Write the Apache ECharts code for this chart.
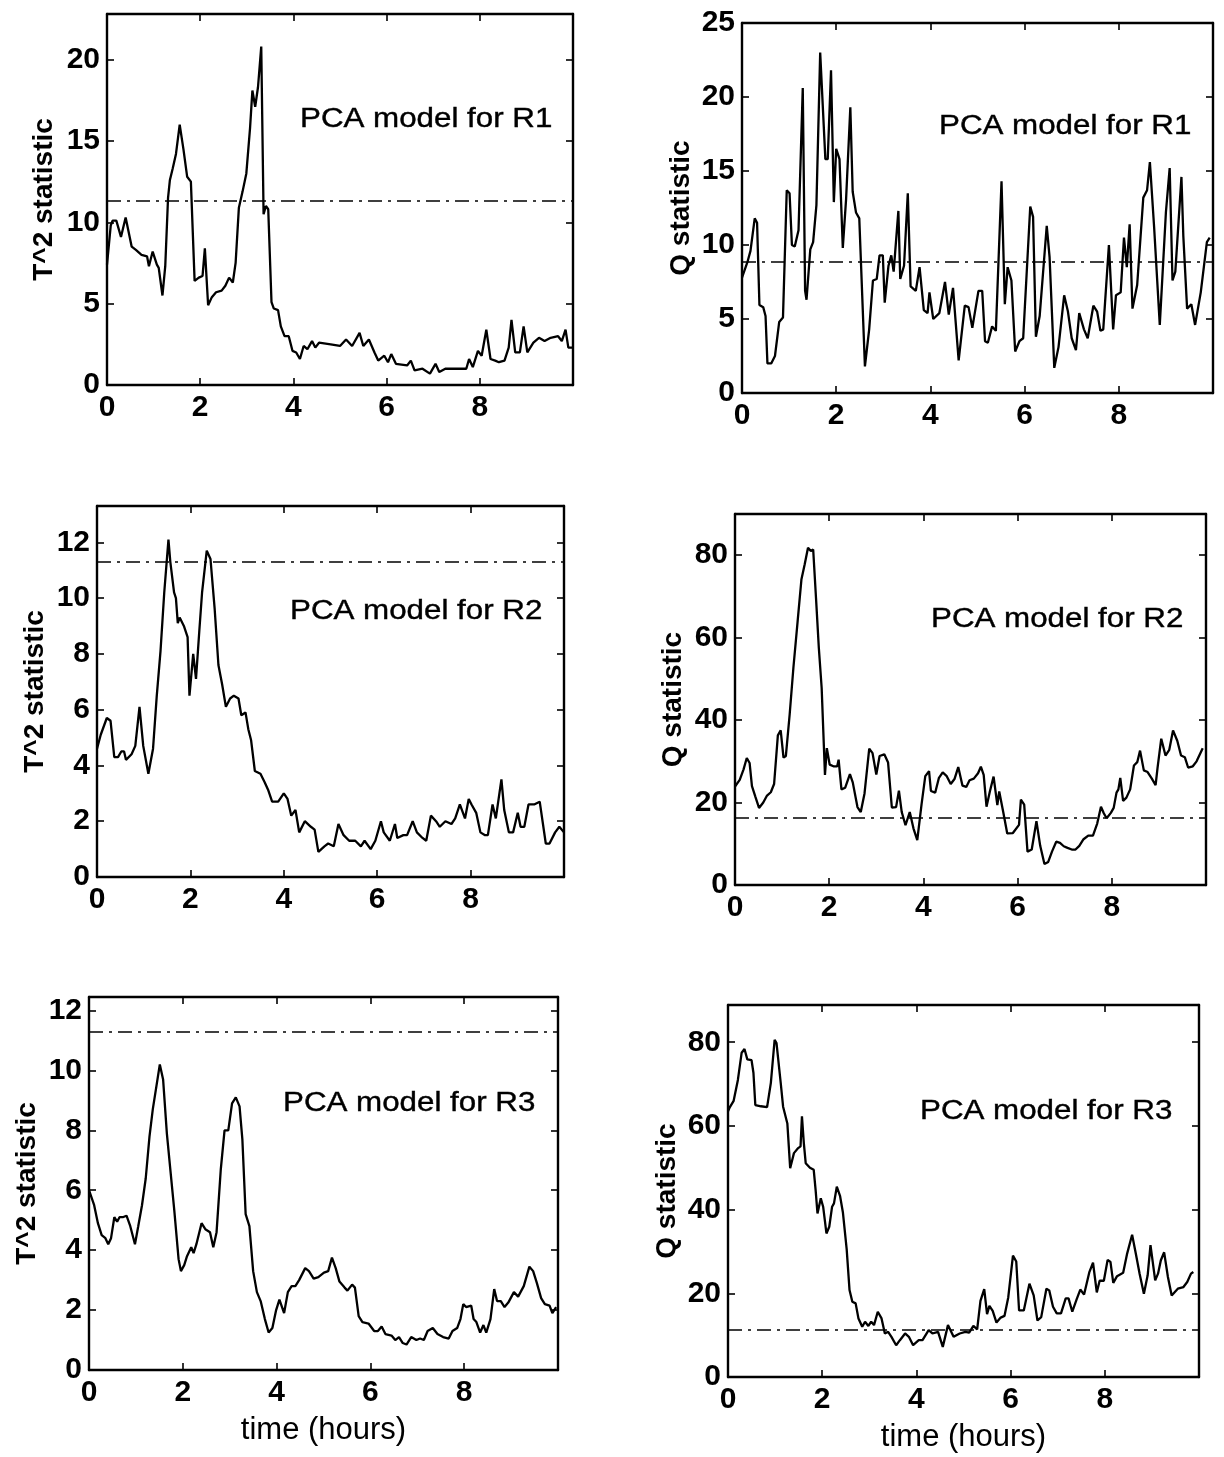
<!DOCTYPE html>
<html>
<head>
<meta charset="utf-8">
<script src="https://cdn.jsdelivr.net/npm/echarts@6/dist/echarts.min.js"></script>
<style>
html,body{margin:0;padding:0;background:#fff;}
#c{width:1224px;height:1457px;}
</style>
</head>
<body>
<div id="c"></div>
<script>
// ---------- data: [time (hours), statistic] ----------
const T2_R1 = [[0,7.4],[0.08,9.8],[0.12,10.1],[0.2,10.1],[0.3,9.1],[0.4,10.3],[0.53,8.5],[0.62,8.3],[0.74,8.0],[0.86,7.9],[0.9,7.3],[0.98,8.2],[1.07,7.4],[1.11,7.2],[1.19,5.5],[1.25,7.3],[1.31,11.5],[1.35,12.6],[1.41,13.3],[1.48,14.2],[1.56,16.0],[1.64,14.5],[1.72,12.8],[1.8,12.5],[1.88,6.4],[1.97,6.6],[2.05,6.7],[2.1,8.4],[2.17,4.9],[2.25,5.4],[2.34,5.7],[2.46,5.8],[2.54,6.1],[2.62,6.6],[2.7,6.3],[2.76,7.5],[2.83,10.9],[2.91,11.9],[2.99,13.0],[3.07,15.8],[3.12,18.1],[3.18,17.1],[3.24,18.3],[3.31,20.8],[3.36,10.5],[3.41,11.0],[3.46,10.8],[3.53,5.1],[3.58,4.7],[3.67,4.6],[3.73,3.6],[3.81,3.0],[3.9,3.0],[3.98,2.1],[4.06,2.0],[4.14,1.6],[4.22,2.4],[4.3,2.2],[4.4,2.7],[4.47,2.3],[4.55,2.6],[4.8,2.5],[5.0,2.4],[5.13,2.8],[5.26,2.4],[5.42,3.2],[5.5,2.4],[5.62,2.8],[5.74,2.0],[5.82,1.5],[5.95,1.8],[6.03,1.4],[6.1,1.9],[6.2,1.3],[6.44,1.2],[6.52,1.5],[6.6,0.9],[6.77,1.0],[6.93,0.7],[7.05,1.3],[7.13,0.8],[7.26,1.0],[7.59,1.0],[7.71,1.0],[7.77,1.6],[7.85,1.1],[7.96,2.1],[8.04,1.8],[8.14,3.4],[8.23,1.6],[8.33,1.5],[8.41,1.4],[8.53,1.5],[8.62,2.3],[8.68,4.0],[8.76,2.0],[8.86,2.0],[8.94,3.6],[9.02,2.0],[9.15,2.6],[9.27,2.9],[9.39,2.7],[9.52,2.9],[9.68,3.0],[9.76,2.7],[9.84,3.4],[9.9,2.3],[10.0,2.3]];

const Q_R1 = [[0,7.8],[0.12,8.9],[0.18,9.6],[0.27,11.8],[0.32,11.5],[0.37,5.95],[0.45,5.8],[0.5,5.2],[0.54,2.0],[0.62,2.0],[0.7,2.5],[0.79,4.8],[0.87,5.1],[0.95,13.7],[1.01,13.5],[1.06,10.0],[1.12,9.9],[1.2,11.0],[1.29,20.6],[1.34,6.9],[1.37,6.3],[1.45,9.7],[1.51,10.2],[1.58,12.7],[1.66,23.0],[1.77,15.8],[1.82,15.8],[1.89,21.8],[1.95,12.9],[2.0,16.5],[2.07,15.8],[2.14,9.8],[2.21,13.1],[2.3,19.3],[2.35,13.6],[2.42,12.2],[2.49,11.8],[2.61,1.8],[2.7,4.3],[2.78,7.6],[2.86,7.7],[2.92,9.3],[2.99,9.3],[3.03,6.1],[3.11,8.6],[3.17,9.3],[3.22,8.2],[3.32,12.3],[3.36,7.7],[3.44,8.6],[3.52,13.5],[3.58,7.2],[3.69,6.9],[3.77,8.5],[3.86,5.6],[3.94,5.4],[3.98,6.8],[4.06,5.0],[4.19,5.4],[4.31,7.5],[4.39,5.3],[4.48,7.1],[4.6,2.2],[4.73,5.9],[4.81,5.8],[4.89,4.4],[5.02,6.9],[5.1,6.9],[5.16,3.5],[5.22,3.4],[5.31,4.5],[5.39,4.2],[5.51,14.3],[5.58,6.0],[5.64,8.5],[5.72,7.6],[5.8,2.8],[5.89,3.5],[5.97,3.7],[6.12,12.6],[6.18,11.9],[6.24,3.8],[6.32,5.2],[6.47,11.3],[6.53,9.2],[6.63,1.7],[6.72,3.1],[6.84,6.6],[6.92,5.5],[7.0,3.7],[7.09,2.9],[7.16,5.4],[7.26,4.3],[7.34,3.7],[7.46,5.9],[7.54,5.5],[7.61,4.2],[7.67,4.3],[7.79,10.0],[7.88,4.3],[7.94,6.6],[8.04,6.8],[8.11,10.5],[8.17,8.5],[8.23,11.4],[8.29,5.7],[8.39,7.3],[8.52,13.2],[8.6,13.7],[8.66,15.6],[8.75,11.2],[8.87,4.6],[9.0,12.2],[9.08,15.2],[9.14,7.6],[9.2,8.2],[9.33,14.6],[9.37,10.6],[9.45,5.7],[9.54,6.0],[9.62,4.6],[9.74,6.8],[9.87,10.2],[9.93,10.5]];

const T2_R2 = [[0,4.6],[0.08,5.1],[0.21,5.7],[0.29,5.6],[0.37,4.3],[0.45,4.3],[0.52,4.5],[0.58,4.5],[0.62,4.2],[0.74,4.4],[0.82,4.7],[0.91,6.1],[0.99,4.7],[1.1,3.7],[1.2,4.6],[1.28,6.5],[1.36,8.1],[1.44,10.2],[1.53,12.1],[1.57,11.3],[1.65,10.2],[1.69,10.0],[1.73,9.1],[1.77,9.3],[1.86,9.0],[1.94,8.6],[1.98,6.5],[2.06,8.0],[2.12,7.1],[2.19,8.8],[2.25,10.2],[2.35,11.7],[2.43,11.4],[2.52,9.6],[2.6,7.6],[2.68,6.9],[2.76,6.1],[2.85,6.4],[2.93,6.5],[3.03,6.4],[3.09,5.8],[3.18,5.9],[3.24,5.3],[3.3,4.9],[3.38,3.8],[3.5,3.7],[3.59,3.4],[3.67,3.1],[3.75,2.7],[3.88,2.7],[4.0,3.0],[4.08,2.8],[4.16,2.2],[4.25,2.4],[4.33,1.6],[4.45,2.0],[4.58,1.8],[4.66,1.7],[4.74,0.9],[4.87,1.1],[4.95,1.2],[5.07,1.1],[5.17,1.9],[5.28,1.5],[5.4,1.3],[5.53,1.3],[5.65,1.1],[5.73,1.3],[5.86,1.0],[5.96,1.3],[6.08,2.0],[6.14,1.6],[6.27,1.3],[6.38,1.9],[6.43,1.4],[6.56,1.5],[6.64,1.5],[6.76,2.0],[6.85,1.6],[6.97,1.4],[7.05,1.3],[7.15,2.2],[7.26,2.0],[7.34,1.8],[7.46,2.0],[7.59,1.9],[7.67,2.1],[7.77,2.6],[7.88,2.1],[7.96,2.8],[8.02,2.6],[8.12,2.3],[8.21,1.6],[8.31,1.5],[8.37,1.5],[8.47,2.6],[8.54,2.1],[8.66,3.5],[8.72,2.4],[8.82,1.6],[8.91,1.6],[9.01,2.3],[9.07,1.8],[9.15,1.8],[9.24,2.6],[9.36,2.6],[9.48,2.7],[9.61,1.2],[9.69,1.2],[9.81,1.6],[9.9,1.8],[10.0,1.6]];

const Q_R2 = [[0,23.9],[0.1,25.5],[0.18,28.0],[0.25,30.8],[0.31,29.6],[0.36,24.0],[0.43,21.5],[0.51,18.7],[0.6,20.0],[0.68,21.7],[0.76,22.5],[0.83,24.5],[0.91,36.3],[0.97,37.5],[1.03,30.9],[1.08,31.3],[1.16,41.3],[1.24,52.7],[1.33,64.0],[1.41,74.1],[1.48,77.8],[1.55,81.8],[1.61,81.0],[1.66,81.4],[1.72,69.6],[1.78,57.5],[1.84,47.8],[1.91,26.7],[1.95,33.2],[2.01,29.2],[2.09,28.8],[2.17,28.8],[2.2,30.4],[2.26,23.2],[2.34,23.6],[2.44,26.9],[2.5,24.9],[2.6,18.9],[2.67,17.7],[2.75,22.2],[2.85,33.1],[2.92,32.0],[3.0,26.8],[3.07,31.3],[3.17,31.7],[3.25,29.7],[3.33,18.8],[3.42,18.9],[3.48,22.9],[3.54,17.7],[3.62,14.5],[3.71,17.7],[3.79,13.7],[3.87,10.9],[3.96,19.5],[4.04,26.4],[4.12,27.6],[4.16,22.8],[4.25,22.4],[4.33,26.0],[4.41,27.3],[4.49,26.5],[4.58,24.5],[4.66,25.7],[4.74,28.6],[4.83,24.1],[4.91,23.8],[4.98,25.4],[5.07,25.8],[5.16,27.1],[5.22,28.7],[5.28,26.7],[5.34,19.0],[5.41,22.6],[5.49,26.3],[5.57,19.4],[5.61,22.7],[5.7,17.4],[5.78,12.5],[5.9,12.6],[6.03,14.6],[6.07,20.7],[6.14,19.5],[6.21,8.1],[6.3,8.6],[6.4,15.5],[6.48,9.5],[6.57,5.1],[6.65,5.6],[6.73,8.1],[6.82,10.5],[6.9,10.2],[6.98,9.4],[7.06,9.0],[7.15,8.6],[7.23,8.6],[7.31,9.5],[7.4,11.1],[7.5,12.0],[7.6,12.0],[7.69,14.9],[7.77,19.0],[7.83,17.4],[7.89,16.2],[7.98,17.5],[8.04,18.7],[8.1,22.4],[8.14,23.2],[8.18,26.0],[8.24,20.4],[8.31,21.2],[8.39,23.2],[8.47,29.0],[8.54,29.8],[8.6,32.6],[8.68,27.8],[8.76,27.4],[8.85,25.8],[8.93,24.2],[8.97,28.3],[9.05,35.5],[9.14,31.4],[9.22,32.8],[9.3,37.5],[9.39,35.0],[9.47,31.4],[9.55,31.0],[9.62,28.5],[9.72,28.8],[9.8,30.0],[9.93,33.2]];

const T2_R3 = [[0,6.0],[0.11,5.5],[0.19,4.9],[0.27,4.5],[0.35,4.4],[0.41,4.2],[0.47,4.4],[0.54,5.1],[0.6,4.95],[0.65,5.1],[0.72,5.1],[0.8,5.15],[0.88,4.8],[0.98,4.2],[1.05,4.8],[1.13,5.5],[1.21,6.4],[1.29,7.8],[1.36,8.7],[1.44,9.5],[1.51,10.2],[1.58,9.7],[1.66,7.9],[1.74,6.6],[1.82,5.3],[1.91,3.7],[1.96,3.3],[2.03,3.5],[2.09,3.8],[2.18,4.1],[2.23,3.9],[2.29,4.2],[2.4,4.9],[2.48,4.7],[2.58,4.6],[2.65,4.1],[2.72,4.6],[2.81,6.7],[2.89,8.0],[2.97,8.0],[3.05,8.9],[3.13,9.1],[3.21,8.8],[3.27,7.7],[3.34,5.2],[3.42,4.8],[3.5,3.3],[3.58,2.6],[3.66,2.3],[3.75,1.7],[3.83,1.25],[3.91,1.4],[3.99,2.0],[4.06,2.35],[4.16,1.9],[4.24,2.6],[4.32,2.8],[4.4,2.8],[4.48,3.0],[4.61,3.4],[4.69,3.3],[4.79,3.05],[4.89,3.1],[5.01,3.25],[5.1,3.3],[5.18,3.75],[5.26,3.4],[5.34,2.95],[5.45,2.75],[5.51,2.65],[5.61,2.85],[5.67,2.75],[5.75,1.8],[5.83,1.6],[5.96,1.55],[6.08,1.3],[6.16,1.3],[6.24,1.45],[6.32,1.2],[6.45,1.15],[6.53,1.0],[6.61,1.1],[6.69,0.9],[6.77,0.85],[6.87,1.1],[6.98,1.0],[7.06,1.05],[7.14,1.0],[7.22,1.3],[7.33,1.4],[7.43,1.2],[7.55,1.1],[7.67,1.05],[7.75,1.3],[7.85,1.4],[7.92,1.7],[7.98,2.2],[8.04,2.1],[8.15,2.15],[8.2,1.7],[8.26,1.6],[8.34,1.25],[8.41,1.5],[8.47,1.25],[8.56,1.7],[8.64,2.7],[8.7,2.3],[8.78,2.3],[8.86,2.1],[8.94,2.25],[9.06,2.6],[9.15,2.45],[9.27,2.8],[9.39,3.45],[9.47,3.3],[9.55,2.9],[9.64,2.4],[9.72,2.2],[9.82,2.15],[9.88,1.9],[9.96,2.1]];

const Q_R3 = [[0,63.5],[0.04,64.5],[0.12,66],[0.21,71],[0.29,77.5],[0.35,78.4],[0.41,75.9],[0.5,75.7],[0.54,72.7],[0.58,65],[0.7,64.7],[0.83,64.5],[0.91,70.3],[0.99,80.6],[1.03,79.8],[1.12,70.2],[1.17,64.6],[1.26,60.6],[1.32,49.9],[1.4,53.5],[1.49,54.7],[1.54,55.1],[1.57,62.3],[1.61,55.9],[1.65,51.1],[1.74,50],[1.82,49.5],[1.86,44.7],[1.9,39.1],[1.97,42.7],[2.02,40.7],[2.09,34.3],[2.15,35.9],[2.21,40.7],[2.25,41.5],[2.31,45.5],[2.38,43.2],[2.44,39.3],[2.52,30.5],[2.58,20.8],[2.64,18.0],[2.71,17.6],[2.77,14],[2.85,12],[2.91,13.2],[2.98,12.2],[3.04,13.2],[3.1,12.4],[3.18,15.6],[3.26,14],[3.33,10.4],[3.4,10.8],[3.47,9.6],[3.57,7.6],[3.65,8.8],[3.76,10.4],[3.84,9.6],[3.93,7.6],[4.05,8.8],[4.13,8.8],[4.26,11.2],[4.34,10.4],[4.46,10.8],[4.56,7.2],[4.67,12.4],[4.79,9.6],[4.92,10.4],[5.04,10.8],[5.12,10.6],[5.21,12.2],[5.29,11.4],[5.36,18.2],[5.44,21.0],[5.5,15.0],[5.55,17.0],[5.62,15.8],[5.7,13.0],[5.79,14.2],[5.87,14.6],[5.95,19.0],[6.05,29.0],[6.12,27.6],[6.18,15.9],[6.28,15.9],[6.4,22.3],[6.49,19.5],[6.57,13.5],[6.65,14.3],[6.76,21.1],[6.82,20.7],[6.9,16.8],[6.98,15.2],[7.07,15.2],[7.17,18.8],[7.23,18.8],[7.31,15.6],[7.4,18.5],[7.48,20.9],[7.56,19.7],[7.67,25.0],[7.75,27.3],[7.83,20.2],[7.89,23.0],[7.98,23.0],[8.06,28.0],[8.12,27.5],[8.18,22.5],[8.26,24.1],[8.39,24.9],[8.47,29.3],[8.58,34.0],[8.66,29.4],[8.74,24.6],[8.83,19.9],[8.91,24.3],[8.97,31.5],[9.01,31.1],[9.07,23.1],[9.13,24.7],[9.19,27.9],[9.26,29.8],[9.34,23.9],[9.42,19.5],[9.55,21.1],[9.67,21.5],[9.75,22.7],[9.83,24.7],[9.88,25.1]];

// ---------- axis / panel settings ----------
const panelSeries = [T2_R1, Q_R1, T2_R2, Q_R2, T2_R3, Q_R3];
const thresholds = [11.3, 8.9, 11.3, 16.2, 11.3, 11.2];
const yMax = [22.8, 25, 13.3, 90, 12.45, 88.9];
const yStep = [5, 5, 2, 20, 2, 20];
const yNames = ['T^2 statistic', 'Q statistic', 'T^2 statistic', 'Q statistic', 'T^2 statistic', 'Q statistic'];
const notes = ['PCA model for R1', 'PCA model for R1', 'PCA model for R2', 'PCA model for R2', 'PCA model for R3', 'PCA model for R3'];
const xMax = 10, xStep = 2;
const xName = 'time (hours)';

// ---------- layout ----------
const boxes = [
  {left:107, top:14,   width:466, height:371},
  {left:742, top:23,   width:471, height:370},
  {left:97,  top:506,  width:467, height:371},
  {left:735, top:514,  width:471, height:371},
  {left:89,  top:997,  width:469, height:373},
  {left:728, top:1005, width:471, height:372}
];
const nameGaps = [49, 47, 48, 48, 48, 47];
const notePos = [[300,120],[939,127],[290,612],[931,620],[283,1104],[920,1112]];

const FONT = "'Liberation Sans', Arial, Helvetica, sans-serif";
const tickLabelStyle = {fontFamily: FONT, fontSize: 30, fontWeight: 'bold', color: '#000'};
const edge = {show: true, onZero: false, lineStyle: {color: '#000', width: 2.4}};
const tick = {show: true, inside: true, length: 7, lineStyle: {color: '#000', width: 1.6}};

const grid = [], xAxis = [], yAxis = [], series = [], graphic = [];
boxes.forEach((b, k) => {
  grid.push({left: b.left, top: b.top, width: b.width, height: b.height, show: false, containLabel: false});
  const isBottom = k >= 4;
  // bottom x axis
  xAxis.push({
    type: 'value', gridIndex: k, min: 0, max: xMax, interval: xStep, position: 'bottom',
    axisLine: edge, splitLine: {show: false}, axisTick: tick,
    axisLabel: {show: true, margin: 8, ...tickLabelStyle,
      formatter: v => (v >= xMax - 1e-9 ? '' : String(v))},
    name: isBottom ? xName : '', nameLocation: 'middle', nameGap: 45,
    nameTextStyle: {fontFamily: FONT, fontSize: 31, color: '#000'}
  });
  // top x axis (box edge + ticks)
  xAxis.push({
    type: 'value', gridIndex: k, min: 0, max: xMax, interval: xStep, position: 'top',
    axisLine: edge, splitLine: {show: false}, axisLabel: {show: false}, axisTick: tick
  });
  const step = yStep[k];
  yAxis.push({
    type: 'value', gridIndex: k, min: 0, max: yMax[k], interval: step, position: 'left',
    axisLine: edge, splitLine: {show: false}, axisTick: tick,
    axisLabel: {show: true, margin: 7, ...tickLabelStyle,
      formatter: v => (Math.abs(v / step - Math.round(v / step)) < 1e-6 ? String(v) : '')},
    name: yNames[k], nameLocation: 'middle', nameGap: nameGaps[k],
    nameTextStyle: {fontFamily: FONT, fontSize: 28, fontWeight: 'bold', color: '#000'}
  });
  yAxis.push({
    type: 'value', gridIndex: k, min: 0, max: yMax[k], interval: step, position: 'right',
    axisLine: edge, splitLine: {show: false}, axisLabel: {show: false}, axisTick: tick
  });
  series.push({
    type: 'line', xAxisIndex: 2 * k, yAxisIndex: 2 * k, data: panelSeries[k],
    symbol: 'none', showSymbol: false, smooth: false,
    lineStyle: {color: '#000', width: 2.3}, silent: true,
    markLine: {
      silent: true, symbol: ['none', 'none'], label: {show: false},
      lineStyle: {color: '#000', width: 1.7, type: [14, 6, 3, 6]},
      data: [{yAxis: thresholds[k]}]
    }
  });
  graphic.push({
    type: 'text', x: notePos[k][0], y: notePos[k][1], scaleX: 1.16, scaleY: 1,
    style: {text: notes[k], fontFamily: FONT, fontSize: 27, fill: '#000',
            stroke: '#000', lineWidth: 0.4,
            align: 'left', verticalAlign: 'middle', textAlign: 'left', textVerticalAlign: 'middle'}
  });
});

const chart = echarts.init(document.getElementById('c'), null, {renderer: 'canvas'});
chart.setOption({
  animation: false,
  backgroundColor: '#fff',
  grid, xAxis, yAxis, series, graphic
});
</script>
</body>
</html>
